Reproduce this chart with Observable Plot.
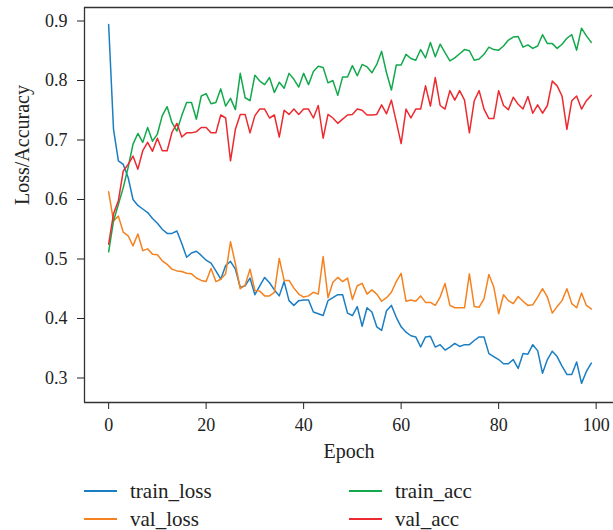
<!DOCTYPE html>
<html>
<head>
<meta charset="utf-8">
<script src="https://cdn.jsdelivr.net/npm/d3@7"></script>
<script src="https://cdn.jsdelivr.net/npm/@observablehq/plot@0.6"></script>
<style>
  body { margin: 0; background: white; }
  #wrap { width: 613px; font-family: 'Liberation Serif', 'DejaVu Serif', serif; color: #222; }
  #legend { position: relative; width: 613px; height: 60px; }
  .item { position: absolute; display: flex; align-items: center; font-size: 21px; }
  .sw { width: 33px; height: 0; border-top: 2px solid; margin-right: 13px; }
</style>
</head>
<body>
<div id="wrap"><div id="chart"></div><div id="legend"></div></div>
<script>
const epochs = d3.range(100);
const seriesNames = ["train_loss", "val_loss", "train_acc", "val_acc"];
const seriesColors = ["#1b7ec2", "#f5821f", "#12a84b", "#ec2a2f"];
const xTicks = [0, 20, 40, 60, 80, 100];
const yTicks = [0.3, 0.4, 0.5, 0.6, 0.7, 0.8, 0.9];
const xLabel = "Epoch";
const yLabel = "Loss/Accuracy";

const train_loss = [0.894,0.718,0.665,0.659,0.637,0.600,0.590,0.584,0.578,0.568,
0.560,0.550,0.543,0.543,0.547,0.526,0.503,0.510,0.513,0.506,
0.498,0.493,0.480,0.466,0.489,0.496,0.483,0.452,0.455,0.468,
0.440,0.455,0.469,0.460,0.448,0.438,0.462,0.430,0.422,0.430,
0.431,0.431,0.411,0.408,0.405,0.430,0.435,0.440,0.440,0.409,
0.405,0.420,0.387,0.418,0.411,0.386,0.380,0.413,0.422,0.402,
0.386,0.377,0.371,0.369,0.352,0.369,0.370,0.352,0.356,0.347,
0.352,0.358,0.353,0.356,0.356,0.363,0.369,0.369,0.341,0.336,
0.331,0.324,0.324,0.331,0.316,0.341,0.340,0.356,0.346,0.308,
0.331,0.345,0.336,0.320,0.306,0.306,0.327,0.291,0.311,0.325];

const val_loss = [0.613,0.564,0.572,0.545,0.539,0.522,0.542,0.514,0.517,0.508,
0.507,0.497,0.491,0.483,0.480,0.479,0.476,0.475,0.468,0.464,
0.462,0.484,0.462,0.466,0.475,0.529,0.492,0.450,0.456,0.483,
0.447,0.446,0.438,0.438,0.444,0.501,0.464,0.464,0.451,0.441,
0.436,0.438,0.444,0.441,0.504,0.435,0.461,0.469,0.462,0.468,
0.432,0.455,0.459,0.441,0.448,0.441,0.429,0.435,0.444,0.462,
0.476,0.429,0.431,0.429,0.438,0.427,0.427,0.422,0.436,0.459,
0.422,0.418,0.418,0.418,0.475,0.420,0.419,0.433,0.474,0.453,
0.408,0.440,0.430,0.425,0.437,0.429,0.422,0.423,0.436,0.450,
0.436,0.409,0.420,0.430,0.450,0.425,0.418,0.443,0.422,0.416];

const train_acc = [0.512,0.564,0.592,0.620,0.654,0.693,0.711,0.696,0.721,0.698,
0.710,0.741,0.756,0.729,0.715,0.741,0.763,0.763,0.735,0.774,
0.778,0.761,0.763,0.786,0.757,0.770,0.751,0.812,0.771,0.766,
0.809,0.799,0.793,0.805,0.780,0.797,0.787,0.812,0.802,0.789,
0.812,0.793,0.815,0.824,0.822,0.796,0.800,0.775,0.806,0.806,
0.825,0.808,0.827,0.823,0.813,0.827,0.849,0.813,0.784,0.826,
0.826,0.844,0.837,0.834,0.852,0.838,0.864,0.840,0.861,0.847,
0.833,0.838,0.845,0.852,0.850,0.834,0.836,0.844,0.856,0.852,
0.851,0.858,0.868,0.873,0.874,0.856,0.860,0.854,0.858,0.877,
0.862,0.862,0.854,0.861,0.871,0.877,0.851,0.888,0.875,0.864];

const val_acc = [0.525,0.576,0.598,0.648,0.659,0.673,0.651,0.682,0.696,0.681,
0.703,0.682,0.682,0.713,0.728,0.705,0.712,0.712,0.714,0.721,
0.721,0.712,0.712,0.742,0.737,0.665,0.718,0.743,0.743,0.712,
0.741,0.752,0.752,0.737,0.742,0.705,0.750,0.743,0.752,0.743,
0.752,0.752,0.737,0.758,0.703,0.743,0.737,0.728,0.735,0.742,
0.743,0.752,0.750,0.742,0.742,0.743,0.759,0.744,0.767,0.731,
0.694,0.752,0.737,0.752,0.752,0.791,0.757,0.805,0.758,0.752,
0.783,0.767,0.783,0.767,0.712,0.766,0.783,0.752,0.736,0.736,
0.783,0.758,0.751,0.772,0.760,0.752,0.773,0.745,0.759,0.745,
0.758,0.799,0.791,0.774,0.718,0.766,0.774,0.752,0.766,0.775];

const seriesValues = [train_loss, val_loss, train_acc, val_acc];

const rows = [];
seriesNames.forEach((name, s) => {
  epochs.forEach((e, i) => rows.push({epoch: e, value: seriesValues[s][i], series: name}));
});

const xDomain = [-4.95, 103.56];
const yDomain = [0.2588, 0.9227];
const axisColor = "#333";

const chart = Plot.plot({
  width: 613,
  height: 470,
  marginLeft: 84,
  marginRight: 0,
  marginTop: 7,
  marginBottom: 68,
  style: {fontFamily: "'Liberation Serif', 'DejaVu Serif', serif", fontSize: "18px", color: "#222", background: "white", overflow: "visible"},
  x: {domain: xDomain, ticks: xTicks, tickSize: 7, tickPadding: 9, label: null},
  y: {domain: yDomain, ticks: yTicks, tickFormat: ".1f", tickSize: 7, tickPadding: 10, label: null},
  color: {domain: seriesNames, range: seriesColors},
  marks: [
    Plot.line(rows, {x: "epoch", y: "value", z: "series", stroke: "series", strokeWidth: 1.5}),
    Plot.ruleX([xDomain[0]], {stroke: axisColor, strokeWidth: 1.3}),
    Plot.ruleY([yDomain[0], yDomain[1]], {stroke: axisColor, strokeWidth: 1.3}),
    Plot.text([xLabel], {text: d => d, frameAnchor: "bottom", dy: 55, fontSize: 20, fill: "#222"}),
    Plot.text([yLabel], {text: d => d, frameAnchor: "left", dx: -62, rotate: -90, fontSize: 20, fill: "#222"})
  ]
});
document.getElementById("chart").appendChild(chart);

// legend
const legend = document.getElementById("legend");
const legendPos = [[84, 21], [84, 49], [349, 21], [349, 49]];
seriesNames.forEach((name, i) => {
  const it = document.createElement("div");
  it.className = "item";
  it.style.left = legendPos[i][0] + "px";
  it.style.top = (legendPos[i][1] - 12) + "px";
  it.style.height = "24px";
  const sw = document.createElement("span");
  sw.className = "sw";
  sw.style.borderTopColor = seriesColors[i];
  it.appendChild(sw);
  const t = document.createElement("span");
  t.textContent = name;
  it.appendChild(t);
  legend.appendChild(it);
});
</script>
</body>
</html>
